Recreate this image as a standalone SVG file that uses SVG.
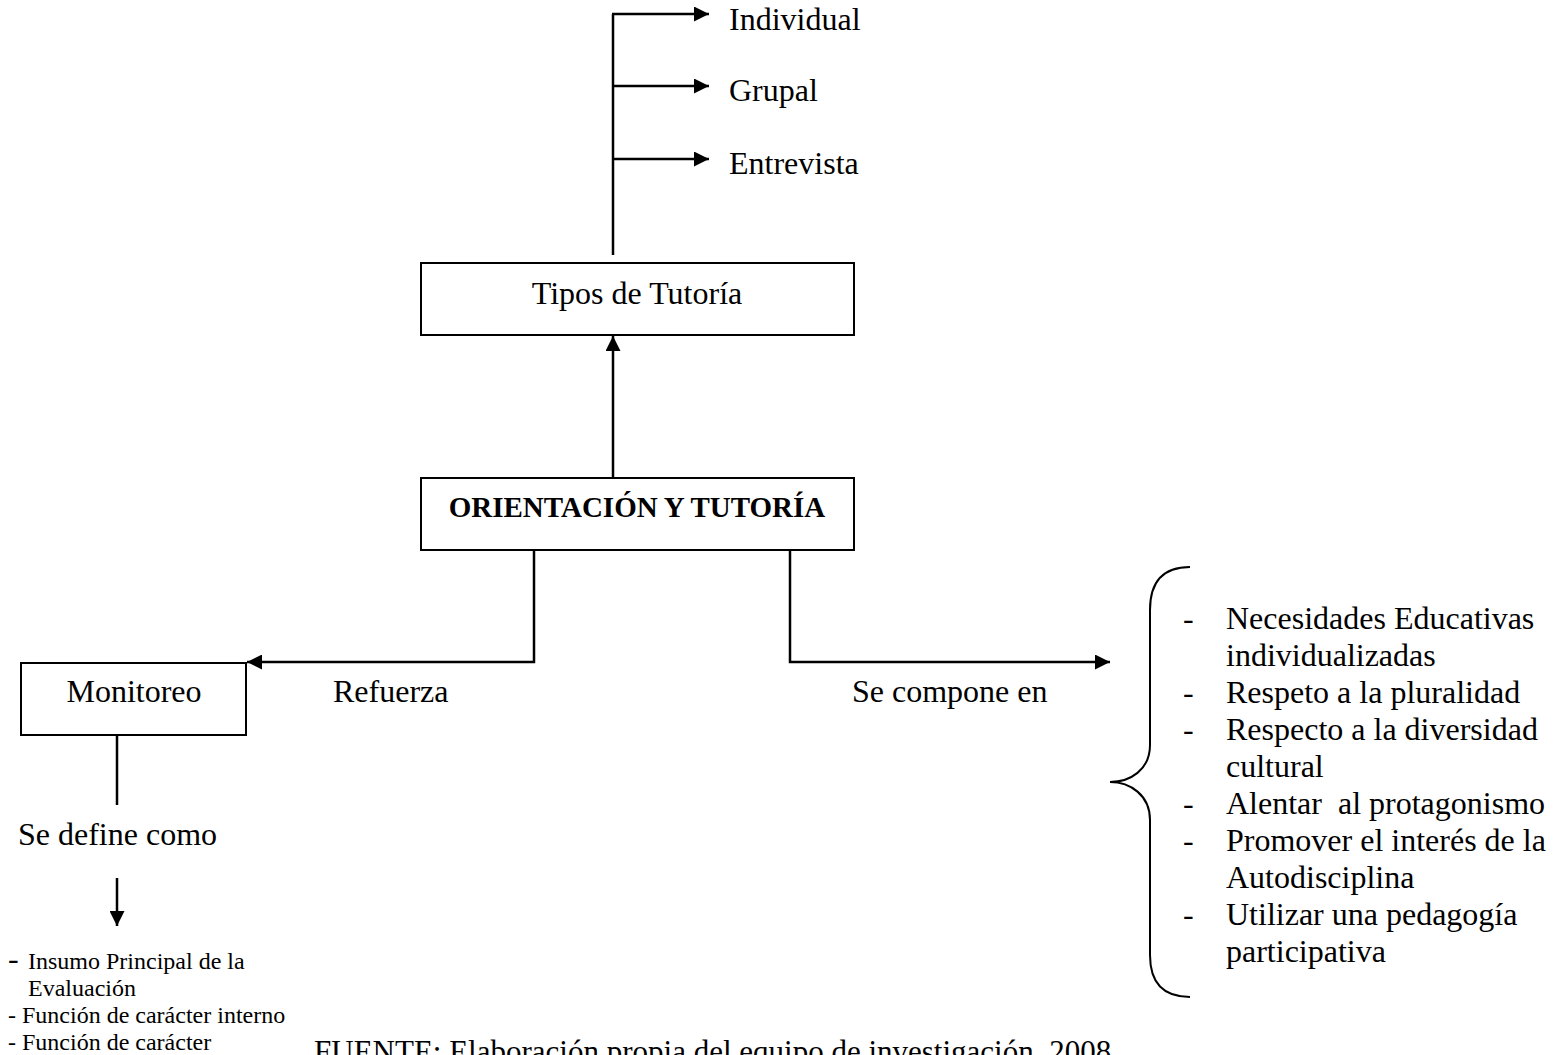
<svg xmlns="http://www.w3.org/2000/svg" width="1555" height="1055" viewBox="0 0 1555 1055">
<style>
text{font-family:"Liberation Serif","Times New Roman",serif;fill:#000}
.t32{font-size:32px}
.t24{font-size:24px}
.box{fill:#fff;stroke:#000;stroke-width:2}
.ln{fill:none;stroke:#000;stroke-width:2.5}
</style>
<defs>
<marker id="ah" viewBox="0 0 10 10" refX="10" refY="5" markerWidth="16" markerHeight="15" markerUnits="userSpaceOnUse" orient="auto">
<path d="M0,0 L10,5 L0,10 Z" fill="#000"/>
</marker>
</defs>
<rect width="1555" height="1055" fill="#fff"/>
<g id="connectors">
<path class="ln" d="M613,255 V14"/>
<path class="ln" d="M612,14 H709" marker-end="url(#ah)"/>
<path class="ln" d="M612,86 H709" marker-end="url(#ah)"/>
<path class="ln" d="M612,159 H709" marker-end="url(#ah)"/>
<path class="ln" d="M613,478 V336" marker-end="url(#ah)"/>
<path class="ln" d="M534,542 V662 H247" marker-end="url(#ah)"/>
<path class="ln" d="M790,542 V662 H1110" marker-end="url(#ah)"/>
<path class="ln" d="M117,735 V805"/>
<path class="ln" d="M117,878 V926" marker-end="url(#ah)"/>
<path d="M1190,567 C1165,567 1150,580 1150,610 V745 C1150,770 1130,782 1110,782 C1130,782 1150,795 1150,820 V955 C1150,985 1165,997 1190,997" fill="none" stroke="#000" stroke-width="2"/>
</g>
<g id="tipos-items">
<text class="t32" x="729" y="30">Individual</text>
<text class="t32" x="729" y="101">Grupal</text>
<text class="t32" x="729" y="174">Entrevista</text>
</g>
<g id="tipos">
<rect class="box" x="421" y="263" width="433" height="72"/>
<text class="t32" x="637" y="304" text-anchor="middle">Tipos de Tutoría</text>
</g>
<g id="orientacion">
<rect class="box" x="421" y="478" width="433" height="72"/>
<text x="637" y="517" text-anchor="middle" font-size="29" font-weight="bold">ORIENTACIÓN Y TUTORÍA</text>
</g>
<g id="monitoreo">
<rect class="box" x="21" y="663" width="225" height="72"/>
<text class="t32" x="134" y="702" text-anchor="middle">Monitoreo</text>
</g>
<g id="labels">
<text class="t32" x="333" y="702">Refuerza</text>
<text class="t32" x="852" y="702">Se compone en</text>
<text class="t32" x="18" y="845">Se define como</text>
</g>
<g id="monitoreo-list" class="t24">
<text x="8" y="969"><tspan font-size="32">-</tspan><tspan x="28">Insumo Principal de la</tspan></text>
<text x="28" y="996">Evaluación</text>
<text x="8" y="1023">- Función de carácter interno</text>
<text x="8" y="1050">- Función de carácter</text>
</g>
<g id="componentes" class="t32">
<text x="1183" y="629">-</text><text x="1226" y="629">Necesidades Educativas</text>
<text x="1226" y="666">individualizadas</text>
<text x="1183" y="703">-</text><text x="1226" y="703">Respeto a la pluralidad</text>
<text x="1183" y="740">-</text><text x="1226" y="740">Respecto a la diversidad</text>
<text x="1226" y="777">cultural</text>
<text x="1183" y="814">-</text><text x="1226" y="814" xml:space="preserve">Alentar  al protagonismo</text>
<text x="1183" y="851">-</text><text x="1226" y="851">Promover el interés de la</text>
<text x="1226" y="888">Autodisciplina</text>
<text x="1183" y="925">-</text><text x="1226" y="925">Utilizar una pedagogía</text>
<text x="1226" y="962">participativa</text>
</g>
<g id="fuente">
<text x="314" y="1062" font-size="31">FUENTE: Elaboración propia del equipo de investigación, 2008</text>
</g>
</svg>
